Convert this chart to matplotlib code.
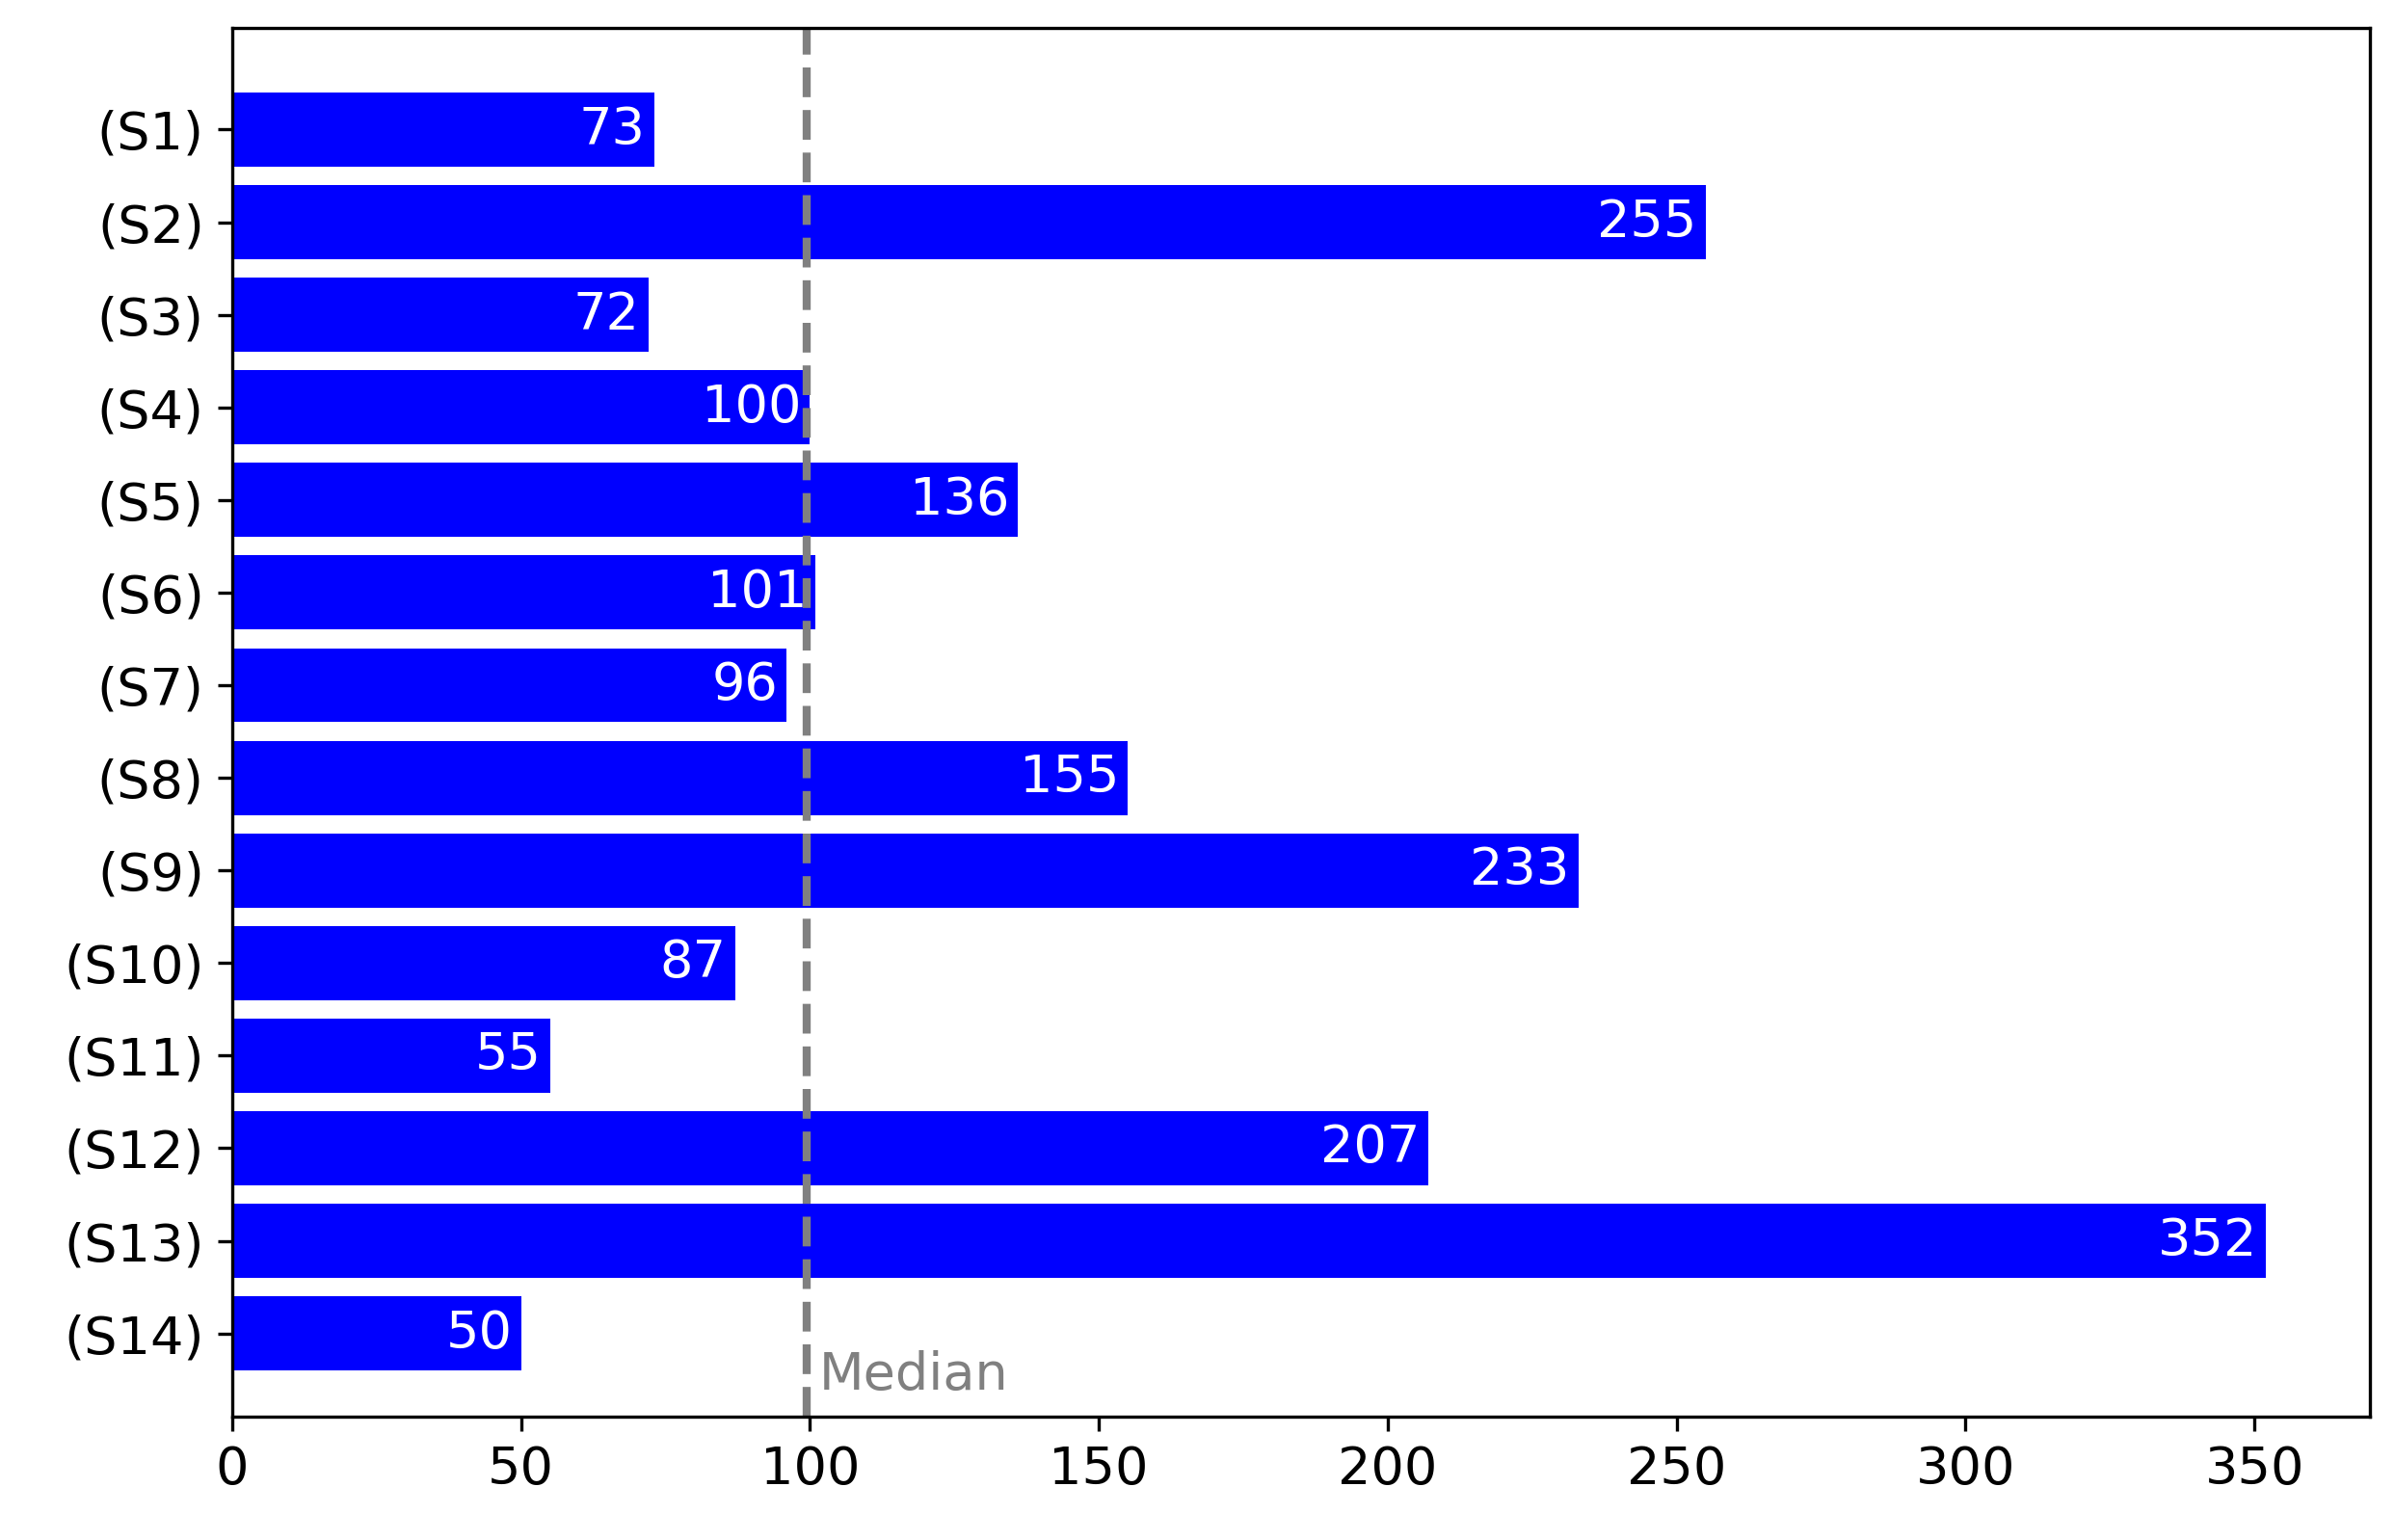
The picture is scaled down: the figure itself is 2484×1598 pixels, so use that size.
import matplotlib
matplotlib.use("Agg")
import matplotlib.pyplot as plt

labels = [f"(S{i})" for i in range(1, 15)]
values = [73, 255, 72, 100, 136, 101, 96, 155, 233, 87, 55, 207, 352, 50]
median_value = 99.5

fig = plt.figure(figsize=(8.28, 5.3267), dpi=300)
ax = fig.add_axes([0.097, 0.080, 0.893, 0.902])
y = list(range(len(labels)))
ax.barh(y, values, color="#0000ff", height=0.8)
for yi, v in zip(y, values):
    ax.text(v - 1.5, yi, str(v), color="white", ha="right", va="center", fontsize=13)
ax.axvline(median_value, color="gray", linestyle="--", linewidth=2)
ax.text(median_value + 2, 13.45, "Median", color="gray", ha="left", va="center", fontsize=13)
ax.set_yticks(y)
ax.set_yticklabels(labels, fontsize=13)
ax.tick_params(axis="x", labelsize=13)
ax.set_xlim(0, 370)
ax.set_ylim(13.9, -1.1)
ax.set_xticks([0, 50, 100, 150, 200, 250, 300, 350])
fig.savefig("out.png", dpi=300)
